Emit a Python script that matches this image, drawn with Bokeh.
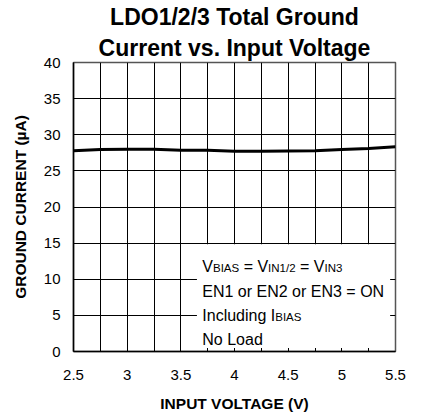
from bokeh.plotting import figure
from bokeh.models import FixedTicker, Title, BoxAnnotation, Label, Range1d
from bokeh.embed import file_html
from bokeh.resources import INLINE

# ---- data ----
input_voltage = [2.5, 2.75, 3.0, 3.25, 3.5, 3.75, 4.0, 4.25, 4.5, 4.75, 5.0, 5.25, 5.5]
ground_current = [27.8, 27.95, 28.0, 28.0, 27.85, 27.85, 27.7, 27.7, 27.75, 27.8, 27.95, 28.1, 28.35]

x_ticks = [2.5, 3.0, 3.5, 4.0, 4.5, 5.0, 5.5]
x_tick_labels = ["2.5", "3", "3.5", "4", "4.5", "5", "5.5"]
x_grid_lines = [2.5, 2.75, 3.0, 3.25, 3.5, 3.75, 4.0, 4.25, 4.5, 4.75, 5.0, 5.25, 5.5]
y_ticks = [0, 5, 10, 15, 20, 25, 30, 35, 40]

title_lines = ["LDO1/2/3 Total Ground", "Current vs. Input Voltage"]
x_label = "INPUT VOLTAGE (V)"
y_label = "GROUND CURRENT (\u00b5A)"

# note lines: list of (text, is_subscript) pieces
note_lines = [
    [("V", False), ("BIAS", True), (" = V", False), ("IN1/2", True), (" = V", False), ("IN3", True)],
    [("EN1 or EN2 or EN3 = ON", False)],
    [("Including I", False), ("BIAS", True)],
    [("No Load", False)],
]

FONT = "Liberation Sans"
MAIN_PX = 16
SUB_PX = 11.5

# Arial / Liberation Sans advance widths (per 1000 em) for width estimation
ADV = {"V": 667, "B": 667, "I": 278, "A": 667, "S": 667, " ": 278, "=": 584,
       "N": 722, "1": 556, "/": 278, "2": 556, "3": 556, "n": 556, "c": 500,
       "l": 222, "u": 556, "d": 556, "i": 222, "g": 556}


def text_width(s, px):
    return sum(ADV.get(ch, 556) for ch in s) * px / 1000.0


p = figure(
    title=None,
    frame_width=322, frame_height=289,
    x_range=Range1d(2.5, 5.5), y_range=Range1d(0, 40),
    output_backend="svg", toolbar_location=None,
    min_border_left=73, min_border_top=62, min_border_right=20, min_border_bottom=5,
    background_fill_color="white", border_fill_color="white",
)

for i, line in enumerate(reversed(title_lines)):
    p.add_layout(Title(text=line, align="center", text_font=FONT, text_font_size="23px",
                       text_font_style="bold", text_color="black",
                       standoff=3), "above")

# axes
p.xaxis.ticker = FixedTicker(ticks=x_ticks)
p.xaxis.major_label_overrides = {t: l for t, l in zip(x_ticks, x_tick_labels)}
p.yaxis.ticker = FixedTicker(ticks=y_ticks)
for ax in (p.xaxis, p.yaxis):
    ax.major_tick_line_color = None
    ax.minor_tick_line_color = None
    ax.major_tick_in = 0
    ax.major_tick_out = 0
    ax.axis_line_color = "black"
    ax.axis_line_width = 1.5
    ax.major_label_text_font = FONT
    ax.major_label_text_font_size = "15px"
    ax.major_label_text_color = "black"
    ax.axis_label_text_font = FONT
    ax.axis_label_text_font_size = "15.5px"
    ax.axis_label_text_font_style = "bold"
    ax.axis_label_text_color = "black"
p.xaxis.axis_label = x_label
p.yaxis.axis_label = y_label
p.xaxis.major_label_standoff = 18
p.yaxis.major_label_standoff = 13
p.xaxis.axis_label_standoff = 12
p.yaxis.axis_label_standoff = 12

# grid
p.xgrid.ticker = FixedTicker(ticks=x_grid_lines)
p.ygrid.ticker = FixedTicker(ticks=y_ticks)
for g in (p.xgrid, p.ygrid):
    g.grid_line_color = "black"
    g.grid_line_width = 1
    g.grid_line_alpha = 1

p.outline_line_color = "#555555"
p.outline_line_width = 1.5

# curve
p.line(input_voltage, ground_current, line_color="black", line_width=3)

# note box (white, hides grid)
p.add_layout(BoxAnnotation(left=3.65, right=5.45, bottom=0.5, top=14.85,
                           fill_color="white", fill_alpha=1.0, line_color=None))

note_x = 3.70
note_baselines = [11.75, 8.35, 4.95, 1.6]
for line, yb in zip(note_lines, note_baselines):
    off = 0.0
    for text, sub in line:
        px = SUB_PX if sub else MAIN_PX
        stripped = text.lstrip(" ")
        off += text_width(text[:len(text) - len(stripped)], px)
        p.add_layout(Label(x=note_x, y=yb, x_offset=off, y_offset=-1.5 if sub else 0,
                           text=stripped, text_font=FONT, text_font_size=f"{px}px",
                           text_color="black", text_baseline="alphabetic", text_align="left"))
        off += text_width(stripped, px)

open("out.html", "w").write(file_html(p, INLINE))
